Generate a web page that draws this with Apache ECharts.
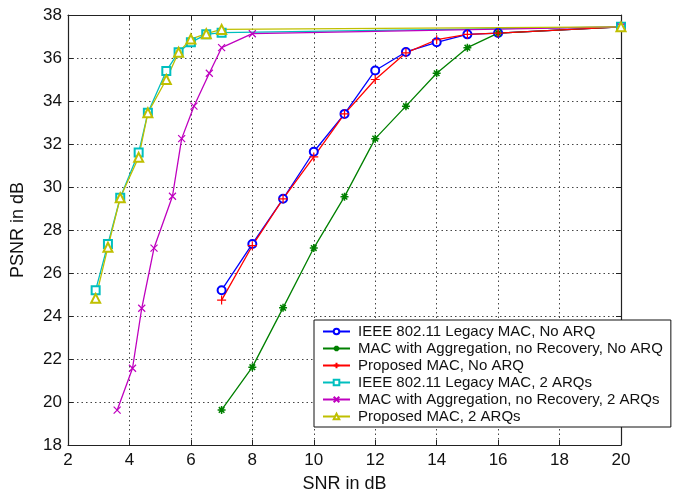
<!DOCTYPE html>
<html>
<head>
<meta charset="utf-8">
<script src="https://cdn.jsdelivr.net/npm/echarts@6/dist/echarts.min.js"></script>
<style>
html,body{margin:0;padding:0;background:#fff;}
#chart{width:674px;height:498px;}
</style>
</head>
<body>
<div id="chart"></div>
<script>
// Data
var xTicks = [2, 4, 6, 8, 10, 12, 14, 16, 18, 20];
var yTicks = [18, 20, 22, 24, 26, 28, 30, 32, 34, 36, 38];

var seriesNames = [
  'IEEE 802.11 Legacy MAC, No ARQ',
  'MAC with Aggregation, no Recovery, No ARQ',
  'Proposed MAC, No ARQ',
  'IEEE 802.11 Legacy MAC, 2 ARQs',
  'MAC with Aggregation, no Recovery, 2 ARQs',
  'Proposed MAC, 2 ARQs'
];

var snrNoArq = [7, 8, 9, 10, 11, 12, 13, 14, 15, 16, 20];
var snrLegacy2 = [2.9, 3.3, 3.7, 4.3, 4.6, 5.2, 5.6, 6.0, 6.5, 7.0, 20];
var snrAgg2 = [3.6, 4.1, 4.4, 4.8, 5.4, 5.7, 6.1, 6.6, 7.0, 8.0, 20];
var snrProp2 = [2.9, 3.3, 3.7, 4.3, 4.6, 5.2, 5.6, 6.0, 6.5, 7.0, 20];

var psnrLegacyNoArq = [25.2, 27.35, 29.45, 31.64, 33.4, 35.42, 36.28, 36.73, 37.1, 37.16, 37.45];
var psnrAggNoArq = [19.63, 21.62, 24.38, 27.16, 29.55, 32.25, 33.76, 35.29, 36.48, 37.16, 37.45];
var psnrPropNoArq = [24.74, 27.27, 29.45, 31.4, 33.4, 35.0, 36.24, 36.85, 37.1, 37.16, 37.45];
var psnrLegacy2 = [25.2, 27.35, 29.5, 31.6, 33.45, 35.4, 36.27, 36.73, 37.1, 37.18, 37.45];
var psnrAgg2 = [19.62, 21.57, 24.36, 27.16, 29.57, 32.25, 33.76, 35.29, 36.48, 37.13, 37.45];
var psnrProp2 = [24.82, 27.2, 29.5, 31.38, 33.45, 35.0, 36.27, 36.88, 37.13, 37.33, 37.45];

function pairs(xs, ys) {
  var out = [];
  for (var i = 0; i < xs.length; i++) out.push([xs[i], ys[i]]);
  return out;
}

var PLUS = 'path://M5,0L5,10M0,5L10,5';
var XMARK = 'path://M0,0L10,10M0,10L10,0';
var STAR = 'path://M5,0L5,10M0,5L10,5M1.5,1.5L8.5,8.5M1.5,8.5L8.5,1.5';

var FONT = '"Liberation Sans", Arial, sans-serif';

function mkSeries(name, xs, ys, color, symbol, size, pathSym, bw) {
  return {
    name: name,
    type: 'line',
    data: pairs(xs, ys),
    symbol: symbol,
    symbolSize: size,
    showAllSymbol: true,
    animation: false,
    lineStyle: { color: color, width: 1.3 },
    itemStyle: pathSym
      ? { color: 'none', borderColor: color, borderWidth: bw || 1.2 }
      : { color: color, borderColor: color, borderWidth: bw || 1.2 }
  };
}

var chart = echarts.init(document.getElementById('chart'), null, { renderer: 'canvas' });

var axisCommon = {
  type: 'value',
  axisLine: { show: true, lineStyle: { color: '#222', width: 1.2 } },
  axisTick: { show: true, inside: true, length: 5, lineStyle: { color: '#222' } }
};

var option = {
  backgroundColor: '#ffffff',
  animation: false,
  textStyle: { fontFamily: FONT },
  grid: { left: 68, top: 15, right: 53, bottom: 47, containLabel: false },
  xAxis: [
    Object.assign({}, axisCommon, {
      min: xTicks[0], max: xTicks[xTicks.length - 1], interval: 2,
      position: 'bottom',
      name: 'SNR in dB', nameLocation: 'middle', nameGap: 30,
      nameTextStyle: { fontSize: 18, color: '#111', fontFamily: FONT },
      axisLabel: { fontSize: 17, color: '#111', margin: 7, fontFamily: FONT },
      splitLine: { show: true, lineStyle: { color: '#444', type: [1.5, 3], width: 1 } }
    }),
    Object.assign({}, axisCommon, {
      min: xTicks[0], max: xTicks[xTicks.length - 1], interval: 2,
      position: 'top',
      axisLabel: { show: false },
      splitLine: { show: false }
    })
  ],
  yAxis: [
    Object.assign({}, axisCommon, {
      min: yTicks[0], max: yTicks[yTicks.length - 1], interval: 2,
      position: 'left',
      name: 'PSNR in dB', nameLocation: 'middle', nameGap: 41,
      nameTextStyle: { fontSize: 18, color: '#111', fontFamily: FONT },
      axisLabel: { fontSize: 17, color: '#111', margin: 6, fontFamily: FONT },
      splitLine: { show: true, lineStyle: { color: '#444', type: [1.5, 3], width: 1 } }
    }),
    Object.assign({}, axisCommon, {
      min: yTicks[0], max: yTicks[yTicks.length - 1], interval: 2,
      position: 'right',
      axisLabel: { show: false },
      splitLine: { show: false }
    })
  ],
  legend: {
    orient: 'vertical',
    left: 314,
    top: 320,
    padding: [3, 8, 2, 8],
    itemGap: 0,
    itemWidth: 27,
    itemHeight: 7,
    backgroundColor: '#ffffff',
    borderColor: '#111',
    borderWidth: 1,
    borderRadius: 0,
    textStyle: { fontSize: 15, color: '#111', lineHeight: 17, fontFamily: FONT, padding: [0, 0, 0, 3] },
    data: seriesNames
  },
  series: [
    mkSeries(seriesNames[0], snrNoArq, psnrLegacyNoArq, '#0000ff', 'emptyCircle', 8, false),
    mkSeries(seriesNames[1], snrNoArq, psnrAggNoArq, '#008000', STAR, 8, true, 1.5),
    mkSeries(seriesNames[2], snrNoArq, psnrPropNoArq, '#ff0000', PLUS, 9, true),
    mkSeries(seriesNames[3], snrLegacy2, psnrLegacy2, '#00bfbf', 'emptyRect', 8, false),
    mkSeries(seriesNames[4], snrAgg2, psnrAgg2, '#bf00bf', XMARK, 7, true),
    mkSeries(seriesNames[5], snrProp2, psnrProp2, '#bfbf00', 'emptyTriangle', 9, false)
  ]
};

chart.setOption(option);
</script>
</body>
</html>
